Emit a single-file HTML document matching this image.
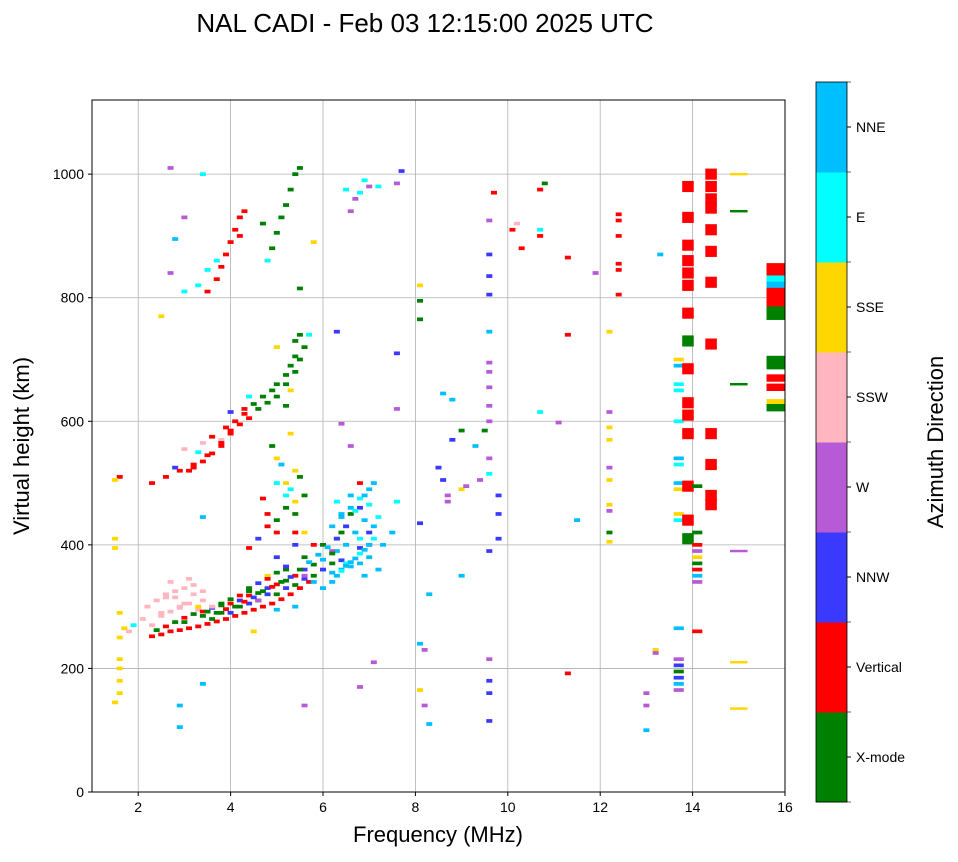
<!DOCTYPE html>
<html><head><meta charset="utf-8">
<style>
html,body{margin:0;padding:0;background:#fff;}
svg text{font-family:"Liberation Sans","DejaVu Sans",sans-serif;}
</style></head>
<body>
<svg id="chart" width="958" height="857" viewBox="0 0 958 857" xmlns="http://www.w3.org/2000/svg">
<text x="425" y="32" font-size="26" text-anchor="middle">NAL CADI - Feb 03 12:15:00 2025 UTC</text>
<g id="grid"></g>
<g id="marks"></g>
<rect x="92" y="100" width="693" height="692" fill="none" stroke="#000" stroke-width="1"/>
<g id="ticks"></g>
<text x="438" y="842" font-size="22" text-anchor="middle">Frequency (MHz)</text>
<text transform="translate(29,446) rotate(-90)" font-size="22" text-anchor="middle">Virtual height (km)</text>
<g id="cbar"></g>
<text transform="translate(943,442) rotate(-90)" font-size="22" text-anchor="middle">Azimuth Direction</text>
</svg>
<script>
const xTicks=[2,4,6,8,10,12,14,16];
const yTicks=[0,200,400,600,800,1000];
const dirNames=["X-mode","Vertical","NNW","W","SSW","SSE","E","NNE"];
const dirColors=["#008000","#ff0000","#3a3aff","#b65ad6","#ffb6c1","#ffd700","#00ffff","#00bfff"];
const freqs=[2.3,2.5,2.7,2.9,3.1,3.3,3.5,3.7,3.9,4.1,4.3,4.5,4.7,4.9,5.1,5.3,5.5,5.7,
2.2,2.4,2.6,2.8,3.0,3.2,3.4,3.6,2.5,2.9,3.3,2.1,2.3,2.7,3.1,
3.0,3.4,3.8,4.2,4.6,5.0,5.4,5.8,6.2,3.6,4.4,5.2,5.6,6.0,5.4,5.6,6.4,6.6,
4.0,4.4,4.8,5.2,5.6,6.0,6.4,6.8,7.0,6.8,5.0,5.4,
5.8,6.2,6.4,6.6,6.8,7.0,7.2,6.5,6.7,6.9,7.1,6.4,6.6,7.3,7.5,5.4,5.0,6.0,6.3,6.9,
6.5,6.8,7.0,6.3,5.2,5.0,7.2,7.6,
5.2,5.4,5.0,5.6,4.8,5.3,4.5,
4.6,5.6,6.2,7.0,6.4,6.6,
4.8,5.0,5.4,4.7,6.8,5.8,
1.5,1.6,1.6,1.6,1.6,1.5,1.5,1.6,1.7,1.8,1.9,1.6,1.6,1.5,
2.3,2.6,2.9,3.2,3.5,3.8,4.0,4.2,3.6,3.9,4.4,4.3,3.0,3.4,3.8,4.6,4.8,5.0,5.2,5.4,5.5,5.6,5.2,5.4,5.0,5.3,2.8,4.0,4.4,3.3,
3.5,3.7,3.8,3.9,4.0,4.1,4.2,4.3,4.2,3.0,3.3,3.5,3.7,3.4,4.9,5.0,5.1,5.2,5.3,5.4,5.5,4.7,2.5,5.8,6.7,7.0,7.6,6.6,6.8,7.2,6.5,6.9,
13.7,13.7,13.7,13.7,13.7,13.7,13.7,13.7,13.7,13.7,13.7,13.7,13.7,13.7,13.7,13.7,13.7,13.7,
13.9,13.9,13.9,13.9,13.9,13.9,13.9,13.9,13.9,13.9,13.9,13.9,13.9,13.9,13.9,
14.1,14.1,14.1,14.1,14.1,14.1,14.1,14.1,14.1,14.1,
14.4,14.4,14.4,14.4,14.4,14.4,14.4,14.4,14.4,14.4,14.4,14.4,
15.0,15.0,15.0,15.0,15.0,15.0,
15.8,15.8,15.8,15.8,15.8,15.8,15.8,15.8,15.8,15.8,15.8,15.8,15.8,15.8,15.8,
12.2,12.2,12.2,12.2,12.2,12.2,12.2,12.2,12.2,12.2,12.4,12.4,12.4,12.4,12.4,12.4,13.2,13.2,13.0,13.0,13.0,13.3,11.3,11.3,11.3,11.5,11.1,11.9,
9.6,9.6,9.6,9.6,9.6,9.6,9.6,9.6,9.6,9.6,9.6,9.6,9.6,9.6,9.6,9.6,9.6,9.7,9.8,9.8,9.8,10.2,10.3,10.1,10.7,10.7,10.7,10.8,10.7,9.5,9.3,9.0,9.0,8.8,8.7,8.7,8.6,8.5,8.6,8.8,9.4,9.1,9.0,
8.1,8.1,8.1,8.1,8.1,8.2,8.3,8.3,8.1,8.2,7.6,7.6,7.7,
2.7,3.0,2.8,2.7,3.4,3.4,2.9,2.9,4.8,6.3,5.6,6.8,7.1,5.5,5.7,
2.4,2.6,2.8,3.0,3.2,3.4,3.6,3.8,4.0,4.2,4.4,4.6,4.8,5.0,5.2,5.4,5.6,5.8,6.0,6.2,
2.5,2.7,2.9,3.1,3.3,3.5,3.7,3.9,4.1,4.3,4.5,4.7,4.9,5.1,5.3,5.5,5.7,5.9,6.1,6.3,
6.2,6.3,6.4,6.5,6.6,6.7,6.8,6.9,7.0,7.1,6.2,6.4,6.6,6.8,7.0,6.3,6.5,6.7,6.9,7.1,
2.6,2.8,3.0,3.2,3.4,3.6,3.8,4.0,4.2,4.4,4.6,4.8,5.0,5.2,
4.4,4.6,4.8,5.0,5.2,5.4,5.3,5.5,5.1,4.9,
3.1,3.2,3.4,3.6,3.8,4.0,4.1,4.3,4.5,4.7,5.0,5.2,5.3,5.4,5.5,4.9];
const heights=[252,255,260,262,265,268,272,276,280,285,290,295,300,305,312,320,330,340,
300,310,320,315,330,320,310,300,290,300,295,280,270,340,345,
275,285,290,300,310,320,335,350,370,280,330,360,380,400,450,480,420,450,
290,305,320,330,345,360,375,395,420,460,380,400,
340,355,360,365,370,380,360,400,420,440,430,450,480,400,420,300,295,330,390,350,
370,410,465,470,480,500,445,470,
500,520,540,420,350,580,260,
310,350,390,400,596,560,
450,420,420,475,500,400,
145,160,180,200,215,395,410,250,265,260,270,290,510,505,
500,510,520,530,545,560,580,595,575,590,605,620,555,565,570,620,630,640,660,680,700,720,625,730,720,650,525,615,640,550,
810,830,850,870,890,910,930,940,900,810,820,845,860,1000,880,905,930,950,975,1000,1010,920,770,890,960,980,985,940,970,980,975,990,
700,690,660,650,600,540,530,500,490,450,440,265,215,205,195,185,175,165,
980,930,885,860,840,820,775,730,685,630,610,580,495,440,410,
420,400,390,380,370,360,350,340,260,495,
1000,980,960,910,875,825,725,580,530,480,465,945,
1000,940,660,390,210,135,
850,840,830,820,810,800,790,780,770,700,690,670,655,630,622,
745,615,590,570,525,505,465,455,420,405,935,925,900,855,845,805,230,225,160,140,100,870,865,740,192,440,598,840,
925,870,835,805,745,695,680,655,625,600,540,515,390,215,180,160,115,970,480,450,410,920,880,910,910,900,975,985,615,585,560,585,490,570,480,470,505,525,645,635,505,495,350,
820,795,765,435,240,230,320,110,165,140,710,620,1005,
1010,930,895,840,445,175,140,105,860,745,140,170,210,815,740,
262,268,275,282,288,292,298,302,305,310,318,322,330,336,342,350,360,368,376,386,
285,292,298,305,300,292,290,296,300,308,315,325,332,340,348,360,372,384,396,410,
340,350,358,366,372,378,386,392,400,410,430,445,460,475,490,410,430,455,480,500,
315,325,305,335,325,300,305,312,318,325,338,345,355,365,
395,410,430,440,460,470,490,510,530,560,
520,525,535,548,565,585,600,612,628,640,660,675,690,705,740,650];
const dirs=[1,1,1,1,1,1,1,1,1,1,1,1,1,1,1,1,1,1,
4,4,4,4,4,4,4,4,4,4,4,4,4,4,4,
0,0,0,0,0,0,0,0,0,0,0,0,0,0,0,0,0,0,
2,2,2,2,2,2,2,2,2,2,2,2,
7,7,7,7,7,7,7,7,7,7,7,7,7,7,7,7,7,7,7,7,
6,6,6,6,6,6,6,6,
5,5,5,5,5,5,5,
3,3,3,3,3,3,
1,1,1,1,1,1,
5,5,5,5,5,5,5,5,5,4,6,5,1,5,
1,1,1,1,1,1,1,1,1,1,1,1,4,4,4,0,0,0,0,0,0,0,0,0,5,5,2,2,6,6,
1,1,1,1,1,1,1,1,1,6,6,6,6,6,0,0,0,0,0,0,0,0,5,5,3,3,3,3,6,6,6,6,
5,7,6,6,6,7,6,7,5,5,6,7,3,2,0,2,7,3,
1,1,1,1,1,1,1,0,1,1,1,1,1,1,0,
0,1,3,5,0,1,7,3,1,0,
1,1,1,1,1,1,1,1,1,1,1,1,
5,0,0,3,5,5,
1,1,6,7,1,1,1,0,0,0,0,1,1,5,0,
5,3,5,5,3,5,5,3,0,5,1,1,1,1,1,1,5,3,3,3,7,7,1,1,1,7,3,3,
3,2,2,2,7,3,3,3,3,3,3,6,2,3,2,2,2,1,2,2,2,4,1,1,6,1,1,0,6,0,7,0,5,2,3,3,2,2,7,7,3,3,7,
5,0,0,2,7,3,7,7,5,3,2,3,2,
3,3,7,3,7,7,7,7,6,2,3,3,3,0,6,
0,1,0,1,0,1,2,0,1,2,1,0,2,1,0,1,2,0,7,0,
4,4,4,4,5,0,0,1,0,1,2,0,1,0,2,0,7,7,7,7,
7,7,6,7,7,7,6,7,7,6,7,7,7,6,7,2,2,6,7,7,
4,4,4,4,4,4,0,0,1,0,2,1,0,2,
1,2,1,0,0,5,6,0,7,0,
1,1,1,1,1,1,1,1,0,0,0,0,0,0,0,0];

const X0=92,X1=785,Y0=792,Y1=100,FMIN=1,FMAX=16,HMIN=0,HMAX=1120;
function xs(f){return X0+(f-FMIN)/(FMAX-FMIN)*(X1-X0);}
function ys(h){return Y0-(h-HMIN)/(HMAX-HMIN)*(Y0-Y1);}
const NS="http://www.w3.org/2000/svg";
function mk(tag,attrs,parent){const e=document.createElementNS(NS,tag);for(const k in attrs)e.setAttribute(k,attrs[k]);parent.appendChild(e);return e;}
const grid=document.getElementById('grid'),ticks=document.getElementById('ticks'),marks=document.getElementById('marks'),cbar=document.getElementById('cbar');
xTicks.forEach(t=>{const x=xs(t);
 const g=mk('line',{x1:x,x2:x,y1:Y1,y2:Y0,stroke:'#b0b0b0','stroke-width':0.8},grid);
 
 
 mk('line',{x1:x,x2:x,y1:Y0,y2:Y0+4,stroke:'#000'},ticks);
 const tx=mk('text',{x:x,y:Y0+20,'font-size':14,'text-anchor':'middle'},ticks);tx.textContent=t;
 
 
});
yTicks.forEach(t=>{const y=ys(t);
 const g=mk('line',{x1:X0,x2:X1,y1:y,y2:y,stroke:'#b0b0b0','stroke-width':0.8},grid);
 
 
 mk('line',{x1:X0-4,x2:X0,y1:y,y2:y,stroke:'#000'},ticks);
 const tx=mk('text',{x:X0-8,y:y+5,'font-size':14,'text-anchor':'end'},ticks);tx.textContent=t;
 
 
});
function markSize(f){
 if(Math.abs(f-15.0)<0.05) return [0.38,4];
 if(f>=15.5) return [0.4,12];
 if(Math.abs(f-13.9)<0.05||Math.abs(f-14.4)<0.05) return [0.25,18];
 if(f>=13.6) return [0.22,6];
 return [0.13,6];
}
for(let i=0;i<freqs.length;i++){
 const s=markSize(freqs[i]);
 const x=xs(freqs[i]-s[0]/2), w=xs(freqs[i]+s[0]/2)-x;
 const y=ys(heights[i]+s[1]/2), h=ys(heights[i]-s[1]/2)-y;
 const r=mk('rect',{x:x,y:y,width:w,height:h,fill:dirColors[dirs[i]]},marks);
 
 
}
const CB_X=816,CB_W=31,CB_TOP=82,CB_BOT=802,n=dirNames.length,bh=(CB_BOT-CB_TOP)/n;
for(let i=0;i<n;i++){
 const y=CB_BOT-(i+1)*bh;
 const r=mk('rect',{x:CB_X,y:y,width:CB_W,height:bh+0.5,fill:dirColors[i]},cbar);
 
 
 const cy=y+bh/2;
 mk('line',{x1:CB_X+CB_W,x2:CB_X+CB_W+4,y1:cy,y2:cy,stroke:'#000'},cbar);
 const t=mk('text',{x:CB_X+CB_W+9,y:cy+5,'font-size':14},cbar);t.textContent=dirNames[i];
 
 
}
for(let i=0;i<=n;i++){const y=CB_BOT-i*bh;mk('line',{x1:CB_X+CB_W,x2:CB_X+CB_W+4,y1:y,y2:y,stroke:'#000','stroke-width':0.6},cbar);}
mk('rect',{x:CB_X,y:CB_TOP,width:CB_W,height:CB_BOT-CB_TOP,fill:'none',stroke:'#000','stroke-width':0.8},cbar);
</script>
</body></html>
